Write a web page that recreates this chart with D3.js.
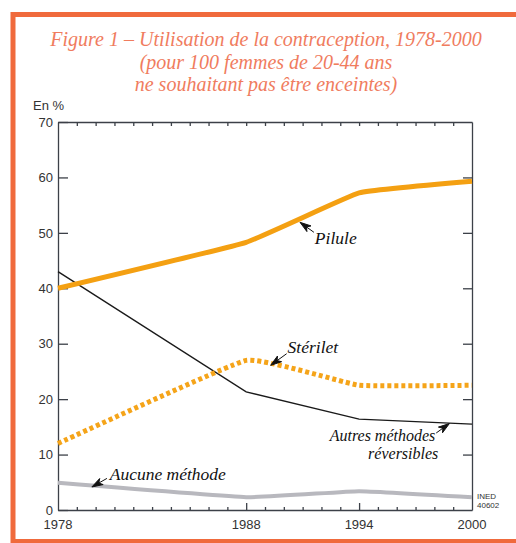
<!DOCTYPE html>
<meta charset="utf-8">
<style>
body {
  margin: 0;
  background: white;
}

.axis path, .axis line {
  stroke: #3c4048;
  stroke-width: 1.3;
}

.axis text {
  font-family: "Liberation Sans";
  font-size: 13px;
  fill: #333;
}

.label {
  font-family: "Liberation Serif";
  font-style: italic;
  font-size: 17.5px;
  fill: #111;
}
</style>
<body>
<script src="https://cdn.jsdelivr.net/npm/d3@7"></script>
<script>

var width = 516,
    height = 543;

// data
var years = [1978, 1988, 1994, 2000];
var pilule = [40, 48.3, 57.2, 59.3];
var sterilet = [12, 27, 22.5, 22.5];
var autres = [43, 21.3, 16.4, 15.5];
var aucune = [4.9, 2.3, 3.4, 2.3];

var yTicks = [0, 10, 20, 30, 40, 50, 60, 70];
var xLabels = [1978, 1988, 1994, 2000];

var titleLines = [
  "Figure 1 \u2013 Utilisation de la contraception, 1978-2000",
  "(pour 100 femmes de 20-44 ans",
  "ne souhaitant pas \u00eatre enceintes)"
];

// annotations, in data units: text position, arrow tip, arrow tail
var notes = [
  {lines: ["Pilule"], anchor: "start", tx: 1991.65, ty: 48.0, tip: [1990.86, 51.9], tail: [1991.6, 50.1]},
  {lines: ["St\u00e9rilet"], anchor: "start", tx: 1990.2, ty: 28.4, tip: [1989.3, 26.1], tail: [1990.15, 28.2]},
  {lines: ["Autres m\u00e9thodes", "r\u00e9versibles"], anchor: "end", tx: 1998.05, ty: 12.4, tip: [1998.8, 15.6], tail: [1998.1, 13.9]},
  {lines: ["Aucune m\u00e9thode"], anchor: "start", tx: 1980.75, ty: 5.4, tip: [1979.8, 4.15], tail: [1980.6, 5.7]}
];

var x = d3.scaleLinear().domain([1978, 2000]).range([58, 472]);
var y = d3.scaleLinear().domain([0, 70]).range([510, 122]);

var svg = d3.select("body").append("svg")
    .attr("width", width)
    .attr("height", height);

// frame
svg.append("rect")
  .attr("x", 13)
  .attr("y", 14.5)
  .attr("width", 540)
  .attr("height", 527)
  .style("fill", "none")
  .style("stroke", "#f06a3c")
  .style("stroke-width", 5);

// title
svg.append("g").selectAll("text")
  .data(titleLines)
  .enter().append("text")
    .attr("x", 266)
    .attr("y", function(d, i) { return 46 + i * 22.5; })
    .attr("text-anchor", "middle")
    .style("font-family", "Liberation Serif")
    .style("font-style", "italic")
    .style("font-size", "20px")
    .style("fill", "#f07c5e")
    .text(function(d) { return d; });

svg.append("text")
  .attr("x", 33)
  .attr("y", 110)
  .style("font-family", "Liberation Sans")
  .style("font-size", "13px")
  .style("fill", "#333")
  .text("En %");

// axes
var yearTicks = d3.range(1978, 2001);

svg.append("g")
  .attr("class", "axis")
  .attr("transform", "translate(" + x(1978) + ",0)")
  .call(d3.axisLeft(y).tickValues(yTicks).tickSizeInner(-10).tickSizeOuter(0).tickPadding(5));

svg.append("g")
  .attr("class", "axis")
  .attr("transform", "translate(" + x(2000) + ",0)")
  .call(d3.axisRight(y).tickValues(yTicks.slice(1, -1)).tickSizeInner(-9).tickSizeOuter(0).tickFormat(""));

svg.append("g")
  .attr("class", "axis")
  .attr("transform", "translate(0," + y(70) + ")")
  .call(d3.axisTop(x).tickValues(yearTicks.slice(1, -1)).tickSizeInner(-4).tickSizeOuter(0).tickFormat(""));

var bottom = svg.append("g")
  .attr("class", "axis")
  .attr("transform", "translate(0," + y(0) + ")")
  .call(d3.axisBottom(x).tickValues(yearTicks.slice(1, -1)).tickSizeInner(-3).tickSizeOuter(0).tickFormat(""));

bottom.selectAll(".tick line")
  .attr("y2", function(d) { return (d === 1988 || d === 1994) ? -7 : -3; });

bottom.selectAll(".xlab")
  .data(xLabels)
  .enter().append("text")
    .attr("class", "xlab")
    .attr("x", function(d) { return x(d); })
    .attr("y", 19)
    .attr("text-anchor", "middle")
    .text(function(d) { return d; });

svg.append("g").selectAll("text")
  .data(["INED", "40602"])
  .enter().append("text")
    .attr("x", x(2000) + 5)
    .attr("y", function(d, i) { return 499 + i * 9; })
    .style("font-family", "Liberation Sans")
    .style("font-size", "8px")
    .style("fill", "#333")
    .text(function(d) { return d; });

// lines
function series(vals) {
  return vals.map(function(v, i) { return [years[i], v]; });
}

var smooth = d3.line()
  .x(function(d) { return x(d[0]); })
  .y(function(d) { return y(d[1]); })
  .curve(d3.curveCardinal.tension(0.7));

var straight = d3.line()
  .x(function(d) { return x(d[0]); })
  .y(function(d) { return y(d[1]); });

svg.append("path")
  .attr("d", smooth(series(aucune)))
  .style("fill", "none")
  .style("stroke", "#b8b8be")
  .style("stroke-width", 4);

svg.append("path")
  .attr("d", straight(series(autres)))
  .style("fill", "none")
  .style("stroke", "#1a1a1a")
  .style("stroke-width", 1.4);

svg.append("path")
  .attr("d", smooth(series(sterilet)))
  .style("fill", "none")
  .style("stroke", "#f5a419")
  .style("stroke-width", 5)
  .style("stroke-dasharray", "4,3");

svg.append("path")
  .attr("d", smooth(series(pilule)))
  .style("fill", "none")
  .style("stroke", "#f4a012")
  .style("stroke-width", 5);

// annotations, one text element per line
var note = svg.append("g").selectAll("g")
  .data(notes)
  .enter().append("g");

note.selectAll("text")
  .data(function(d) { return d.lines.map(function(l, i) { return {t: l, d: d, i: i}; }); })
  .enter().append("text")
    .attr("class", "label")
    .attr("text-anchor", function(e) { return e.d.anchor; })
    .attr("x", function(e) { return x(e.d.tx) + (e.i ? 3 : 0); })
    .attr("y", function(e) { return y(e.d.ty) + e.i * 18; })
    .style("font-size", function(e) { return e.d.lines.length > 1 ? "16px" : null; })
    .text(function(e) { return e.t; });

note.append("path")
  .attr("d", function(d) {
    var px = x(d.tip[0]), py = y(d.tip[1]),
        qx = x(d.tail[0]), qy = y(d.tail[1]),
        dx = qx - px, dy = qy - py,
        len = Math.sqrt(dx * dx + dy * dy),
        ux = dx / len, uy = dy / len,
        bx = px + ux * 11, by = py + uy * 11;
    return "M" + px + "," + py +
      "L" + (bx - uy * 3.5) + "," + (by + ux * 3.5) +
      "L" + (px + ux * 8) + "," + (py + uy * 8) +
      "L" + (bx + uy * 3.5) + "," + (by - ux * 3.5) + "Z" +
      "M" + (px + ux * 8) + "," + (py + uy * 8) + "L" + qx + "," + qy;
  })
  .style("fill", "#111")
  .style("stroke", "#111")
  .style("stroke-width", 1);

</script>
